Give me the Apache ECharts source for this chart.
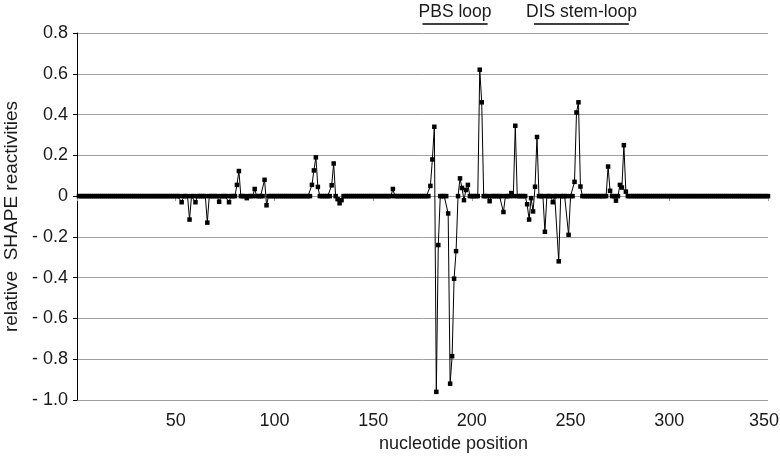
<!DOCTYPE html>
<html>
<head>
<meta charset="utf-8">
<script src="https://cdn.jsdelivr.net/npm/echarts@6/dist/echarts.min.js"></script>
<style>
html,body{margin:0;padding:0;background:#fff;}
#c{width:780px;height:460px;}
</style>
</head>
<body>
<div id="c"></div>
<script>
// nucleotide positions covered by the profile
var firstPos = 1;
var lastPos = 350;
// positions whose reactivity differs from 0, and their values
var changedPos = [53,57,60,66,72,77,81,82,86,90,95,96,119,120,121,122,129,130,132,133,134,160,
  179,180,181,182,183,188,189,190,191,192,194,195,196,197,198,204,205,209,216,220,222,
  228,229,230,231,232,233,237,241,244,249,252,253,254,255,269,270,273,275,276,277,278];
var changedVal = [-0.03,-0.115,-0.03,-0.13,-0.028,-0.03,0.055,0.123,-0.01,0.035,0.08,-0.045,0.055,0.126,0.19,0.045,0.053,0.16,-0.015,-0.035,-0.02,0.035,
  0.05,0.18,0.34,-0.96,-0.24,-0.085,-0.92,-0.785,-0.405,-0.27,0.087,0.04,-0.02,0.03,0.055,0.62,0.46,-0.025,-0.078,0.015,0.345,
  -0.04,-0.115,-0.01,-0.075,0.046,0.29,-0.175,-0.03,-0.32,-0.19,0.07,0.41,0.46,0.047,0.145,0.026,-0.022,0.055,0.042,0.25,0.022];
// tick labels
var yTickLabels = ['- 1.0','- 0.8','- 0.6','- 0.4','- 0.2','0','0.2','0.4','0.6','0.8'];
var xTickLabels = ['','50','100','150','200','250','300','350'];
// region annotations above the plot
var annotLabels = ['PBS loop','DIS stem-loop'];
var annotStart = [175,231.5];
var annotEnd = [208,279.5];

var data = [];
for (var p = firstPos; p <= lastPos; p++) {
  var k = changedPos.indexOf(p);
  data.push([p, k >= 0 ? changedVal[k] : 0]);
}

var FONT = 'Liberation Sans';
var chart = echarts.init(document.getElementById('c'), null, {renderer:'canvas'});
chart.setOption({
  animation:false,
  backgroundColor:'#fff',
  grid:{left:77,right:12,top:33,bottom:60,containLabel:false,outerBoundsMode:'none'},
  xAxis:{
    type:'value',min:0,max:350,interval:50,
    name:'nucleotide position',nameLocation:'middle',nameGap:31,
    nameTextStyle:{fontFamily:FONT,fontSize:18,color:'#1a1a1a',padding:[0,0,0,62]},
    axisLine:{show:true,lineStyle:{color:'#a0a0a0',width:1}},
    axisTick:{show:true,length:5,lineStyle:{color:'#a0a0a0'}},
    splitLine:{show:false},
    axisLabel:{margin:12,fontFamily:FONT,fontSize:18,color:'#1a1a1a',
      rich:{last:{fontFamily:FONT,fontSize:18,color:'#1a1a1a',padding:[0,8,0,0]}},
      formatter:function(v){
        var idx = Math.round(v/50);
        var t = xTickLabels[idx]||'';
        return idx === xTickLabels.length-1 ? '{last|'+t+'}' : t;
      }}
  },
  yAxis:{
    type:'value',min:-1,max:0.8,interval:0.2,
    name:'relative  SHAPE reactivities',nameLocation:'middle',nameGap:55,nameRotate:90,
    nameTextStyle:{fontFamily:FONT,fontSize:19,color:'#1a1a1a'},
    axisLine:{show:true,onZero:false,lineStyle:{color:'#000',width:1}},
    axisTick:{show:true,length:4,lineStyle:{color:'#000'}},
    splitLine:{show:true,lineStyle:{color:'#a0a0a0',width:1}},
    axisLabel:{margin:9,fontFamily:FONT,fontSize:18,color:'#1a1a1a',
      formatter:function(v){return yTickLabels[Math.round((v+1)/0.2)]||'';}}
  },
  series:[{
    type:'line',data:data,
    symbol:'rect',symbolSize:4.5,showAllSymbol:true,
    lineStyle:{color:'#000',width:1},
    itemStyle:{color:'#000'},
    z:5
  }]
});

var g = [];
for (var i = 0; i < annotLabels.length; i++) {
  var a = chart.convertToPixel({gridIndex:0},[annotStart[i],0.8]);
  var b = chart.convertToPixel({gridIndex:0},[annotEnd[i],0.8]);
  var mid = (a[0]+b[0])/2;
  g.push({type:'line',shape:{x1:a[0],y1:a[1]-9,x2:b[0],y2:b[1]-9},style:{stroke:'#000',lineWidth:1.5}});
  g.push({type:'text',x:mid,y:a[1]-21,style:{text:annotLabels[i],font:'17.5px "Liberation Sans"',fill:'#1a1a1a',align:'center',verticalAlign:'middle'}});
}
chart.setOption({graphic:g});
</script>
</body>
</html>
